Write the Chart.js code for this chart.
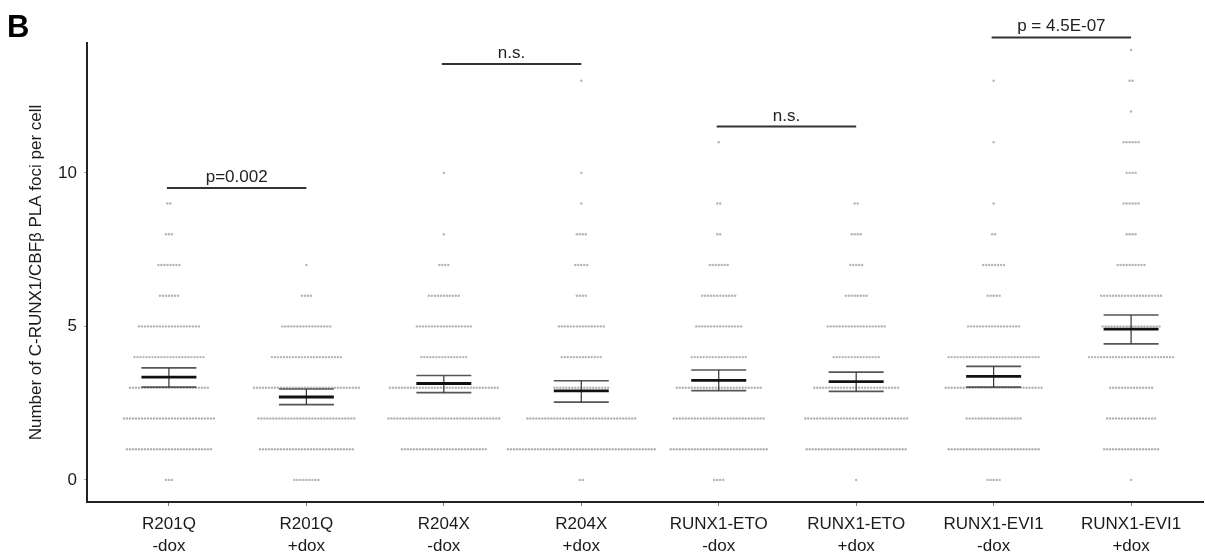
<!DOCTYPE html>
<html><head><meta charset="utf-8">
<script src="https://cdn.jsdelivr.net/npm/chart.js@4.4.1/dist/chart.umd.min.js"></script>
<style>html,body{margin:0;padding:0;background:#fff;}#wrap{width:1205px;height:554px;}</style>
</head><body><div id="wrap"><canvas id="c" width="1205" height="554"></canvas></div>
<script>
// ---- DATA ----
const categories = [
  ["R201Q","-dox"],["R201Q","+dox"],["R204X","-dox"],["R204X","+dox"],
  ["RUNX1-ETO","-dox"],["RUNX1-ETO","+dox"],["RUNX1-EVI1","-dox"],["RUNX1-EVI1","+dox"]
];
// number of cells with 0,1,2,...,14 foci (read as dot-row widths)
const countsR201Qminus   = [3,29,31,27,24,21,7,8,3,2,0,0,0,0,0];
const countsR201Qplus    = [9,32,33,36,24,17,4,1,0,0,0,0,0,0,0];
const countsR204Xminus   = [0,29,38,37,16,19,11,4,1,0,1,0,0,0,0];
const countsR204Xplus    = [2,50,37,19,14,16,4,5,4,1,1,0,0,1,0];
const countsETOminus     = [4,33,31,29,19,16,12,7,2,2,0,1,0,0,0];
const countsETOplus      = [1,34,35,29,16,20,8,5,4,2,0,0,0,0,0];
const countsEVI1minus    = [5,31,19,33,31,18,5,8,2,1,0,1,0,1,0];
const countsEVI1plus     = [1,19,17,15,29,20,21,10,4,6,4,6,1,2,1];
const groupCounts = [countsR201Qminus,countsR201Qplus,countsR204Xminus,countsR204Xplus,
                     countsETOminus,countsETOplus,countsEVI1minus,countsEVI1plus];
// mean and SEM limits
const means   = [3.35,2.70,3.14,2.90,3.24,3.20,3.37,4.91];
const semHigh = [3.65,2.96,3.40,3.23,3.58,3.51,3.70,5.37];
const semLow  = [3.02,2.45,2.84,2.53,2.91,2.88,3.02,4.43];
// significance brackets
const sigFrom  = [0,2,4,6];
const sigTo    = [1,3,5,7];
const sigY     = [9.51,13.55,11.51,14.41];
const sigLabel = ["p=0.002","n.s.","n.s.","p = 4.5E-07"];
const yTickValues = [0,5,10];
const yTitle = "Number of C-RUNX1/CBFβ PLA foci per cell";
const panelLetter = "B";

// ---- layout constants (style, not data) ----
const DOT_STEP = 0.0218;   // horizontal spacing between dots, x units
const BAR_HALF = 0.2;      // half width of mean/SEM bars
const FONT = '"Liberation Sans", Arial, Helvetica, sans-serif';

const dots = [];
groupCounts.forEach((counts, gi) => {
  counts.forEach((n, v) => {
    for (let k = 0; k < n; k++) dots.push({x: gi + (k - (n - 1) / 2) * DOT_STEP, y: v});
  });
});

const overlay = {
  id: 'overlay',
  afterDatasetsDraw(chart) {
    const ctx = chart.ctx, xs = chart.scales.x, ys = chart.scales.y;
    ctx.save();
    // mean +- SEM
    means.forEach((m, i) => {
      const x0 = xs.getPixelForValue(i - BAR_HALF), x1 = xs.getPixelForValue(i + BAR_HALF);
      const xc = xs.getPixelForValue(i);
      const yh = ys.getPixelForValue(semHigh[i]), yl = ys.getPixelForValue(semLow[i]);
      const ym = ys.getPixelForValue(m);
      ctx.strokeStyle = '#555'; ctx.lineWidth = 1.7;
      ctx.beginPath();
      ctx.moveTo(x0, yh); ctx.lineTo(x1, yh);
      ctx.moveTo(x0, yl); ctx.lineTo(x1, yl);
      ctx.stroke();
      ctx.strokeStyle = '#333'; ctx.lineWidth = 1.2;
      ctx.beginPath(); ctx.moveTo(xc, yh); ctx.lineTo(xc, yl); ctx.stroke();
      ctx.strokeStyle = '#111'; ctx.lineWidth = 2.8;
      ctx.beginPath(); ctx.moveTo(x0, ym); ctx.lineTo(x1, ym); ctx.stroke();
    });
    // significance bars
    ctx.font = '17px ' + FONT;
    ctx.fillStyle = '#222';
    ctx.textAlign = 'center';
    ctx.textBaseline = 'alphabetic';
    sigFrom.forEach((f, i) => {
      const x0 = xs.getPixelForValue(f) - 2, x1 = xs.getPixelForValue(sigTo[i]);
      const y = ys.getPixelForValue(sigY[i]);
      ctx.strokeStyle = '#333'; ctx.lineWidth = 2;
      ctx.beginPath(); ctx.moveTo(x0, y); ctx.lineTo(x1, y); ctx.stroke();
      ctx.fillText(sigLabel[i], (x0 + x1) / 2, y - 6);
    });
    // panel letter
    ctx.font = 'bold 31px ' + FONT;
    ctx.textAlign = 'left';
    ctx.fillStyle = '#000';
    ctx.fillText(panelLetter, 7, 37);
    ctx.restore();
  }
};

new Chart(document.getElementById('c'), {
  type: 'scatter',
  data: { datasets: [{
    data: dots,
    pointRadius: 1.2,
    pointHoverRadius: 0,
    backgroundColor: '#b4b4b4',
    borderWidth: 0
  }]},
  options: {
    responsive: false,
    devicePixelRatio: 1,
    animation: false,
    events: [],
    layout: { padding: { top: 43, left: 0, right: 0, bottom: 0 } },
    plugins: { legend: { display: false }, tooltip: { enabled: false } },
    scales: {
      x: {
        type: 'linear', min: -0.596, max: 7.529,
        afterBuildTicks: s => { s.ticks = categories.map((c, i) => ({value: i})); },
        afterFit: s => { s.height = 52; },
        ticks: {
          callback: v => categories[v],
          font: { family: FONT, size: 17, lineHeight: 1.3 },
          color: '#1a1a1a', padding: 7, maxRotation: 0, autoSkip: false
        },
        grid: { display: true, drawOnChartArea: false, drawTicks: true, tickLength: 4, color: '#777', lineWidth: 1 },
        border: { display: true, color: '#222', width: 2 }
      },
      y: {
        type: 'linear', min: -0.72, max: 14.23,
        afterBuildTicks: s => { s.ticks = yTickValues.map(v => ({value: v})); },
        afterFit: s => { s.width = 87; },
        ticks: { font: { family: FONT, size: 17 }, color: '#1a1a1a', padding: 7 },
        grid: { display: true, drawOnChartArea: false, drawTicks: true, tickLength: 3, color: '#aaa', lineWidth: 1 },
        border: { display: true, color: '#222', width: 2 },
        title: { display: true, text: yTitle, font: { family: FONT, size: 17 }, color: '#1a1a1a', padding: { top: 26, bottom: 0 } }
      }
    }
  },
  plugins: [overlay]
});
</script></body></html>
